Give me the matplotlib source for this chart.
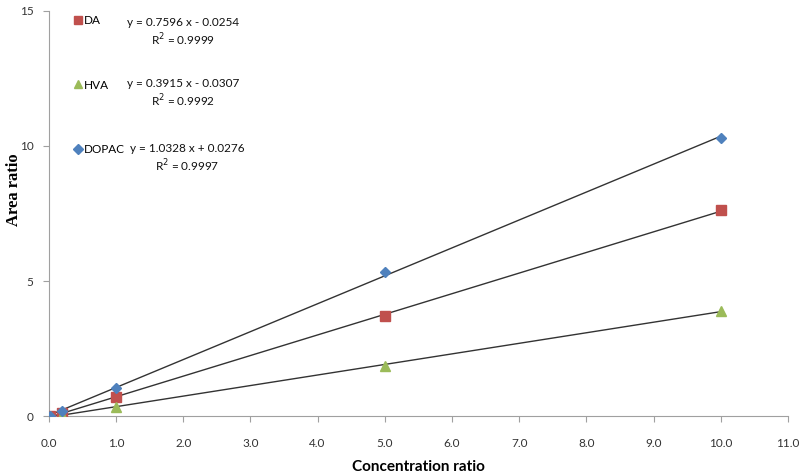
import matplotlib
matplotlib.use("Agg")
import matplotlib.pyplot as plt
import numpy as np

conc = [0.02, 0.2, 1.0, 5.0, 10.0]
da = [0.0, 0.12, 0.70, 3.70, 7.62]
hva = [0.0, 0.05, 0.33, 1.85, 3.90]
dopac = [0.02, 0.20, 1.05, 5.32, 10.30]
names = ["DA", "HVA", "DOPAC"]
equations = ["y = 0.7596 x - 0.0254\nR$^2$ = 0.9999",
             "y = 0.3915 x - 0.0307\nR$^2$ = 0.9992",
             "y = 1.0328 x + 0.0276\nR$^2$ = 0.9997"]
xticks = [0, 1, 2, 3, 4, 5, 6, 7, 8, 9, 10, 11]
yticks = [0, 5, 10, 15]

plt.rcParams['font.family'] = ['Lato', 'DejaVu Sans']
fig = plt.figure(figsize=(8, 4.75), dpi=100)
ax = fig.add_axes([0.061, 0.124, 0.924, 0.853])

colors = ["#C0504D", "#9BBB59", "#4F81BD"]
markers = ["s", "^", "D"]
msizes = [7, 7, 5.5]
series = [da, hva, dopac]
x = np.array(conc)
handles = []
for vals in series:
    coef = np.polyfit(x, np.array(vals), 1)
    ax.plot(x, np.polyval(coef, x), color="#333333", lw=1.0, zorder=2)
for vals, c, m, ms, n in zip(series, colors, markers, msizes, names):
    h, = ax.plot(conc, vals, linestyle="none", marker=m, color=c, markersize=ms, zorder=3, label=n)
    handles.append(h)

ax.set_xlim(0, 11)
ax.set_ylim(0, 15)
ax.set_xticks(xticks)
ax.set_xticklabels([f"{v:.1f}" for v in xticks])
ax.set_yticks(yticks)
for s in ["top", "right"]:
    ax.spines[s].set_visible(False)
for s in ["left", "bottom"]:
    ax.spines[s].set_color("#A0A0A0")
ax.tick_params(axis="both", colors="#A0A0A0", labelcolor="#333333", labelsize=8.5, length=4, direction="out")
ax.tick_params(axis="x", pad=12)
ax.tick_params(axis="y", pad=7)

ax.set_xlabel("Concentration ratio", fontsize=11, fontweight="bold", labelpad=8)
ax.set_ylabel("Area ratio", fontsize=12, fontweight="bold", family="Liberation Serif")
ax.yaxis.set_label_coords(-0.036, 0.56)

leg = ax.legend(handles=handles, loc="upper left", bbox_to_anchor=(0.02, 1.015), frameon=False,
                labelspacing=4.5, handlelength=0.6, handletextpad=0.25, fontsize=8.5, numpoints=1,
                markerscale=0.85)

eq_pos = [(0.182, 0.985), (0.182, 0.835), (0.187, 0.675)]
for (ex, ey), eq in zip(eq_pos, equations):
    ax.text(ex, ey, eq, transform=ax.transAxes, ha="center", va="top", fontsize=8.5,
            linespacing=1.25, color="#111111")

fig.savefig("out.png", dpi=100)
